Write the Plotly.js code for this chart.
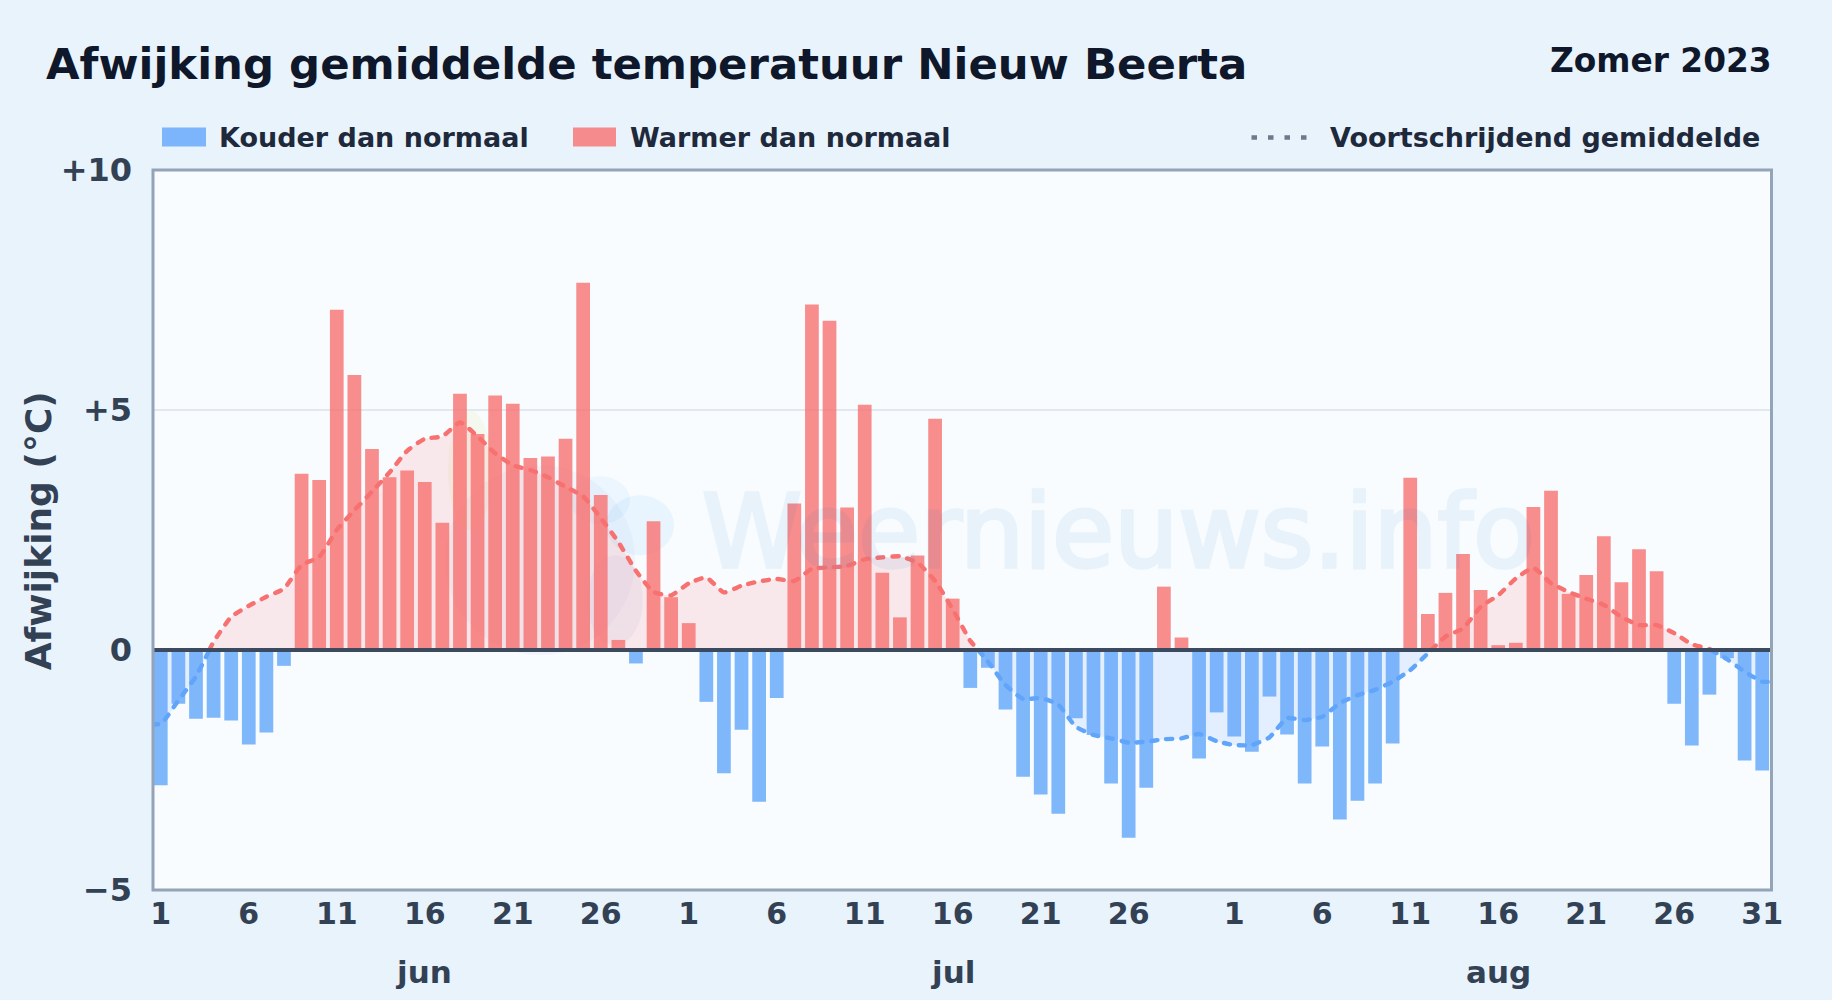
<!DOCTYPE html>
<html><head><meta charset="utf-8">
<script src="https://cdn.plot.ly/plotly-3.0.1.min.js"></script>
<style>html,body{margin:0;padding:0;background:#e9f3fc}#c{width:1832px;height:1000px}
path.js-line{stroke-linecap:round !important}
.annotation[data-index="6"] text{stroke:#2f80c8;stroke-width:3.5px}
</style>
</head><body><div id="c"></div>
<script>
const titleText = 'Afwijking gemiddelde temperatuur Nieuw Beerta';
const seasonText = 'Zomer 2023';
const yLabel = 'Afwijking (°C)';
const coldName = 'Kouder dan normaal';
const warmName = 'Warmer dan normaal';
const avgName = 'Voortschrijdend gemiddelde';
const watermark = 'Weernieuws.info';
const monthNames = ['jun','jul','aug'];
const monthCenters = [15.9,46,77];
const tickDays = [1,6,11,16,21,26,31,36,41,46,51,56,62,67,72,77,82,87,92];
const tickNames = ['1','6','11','16','21','26','1','6','11','16','21','26','1','6','11','16','21','26','31'];
const yTicks = [-5,0,5,10];
const yTickNames = ['−5','0','+5','+10'];

const juneDev = [-2.82,-1.12,-1.43,-1.41,-1.47,-1.97,-1.72,-0.33,3.67,3.54,7.09,5.73,4.19,3.6,3.74,3.5,2.65,5.34,4.5,5.3,5.13,4.0,4.03,4.4,7.65,3.23,0.21,-0.28,2.68,1.10];
const julyDev = [0.56,-1.08,-2.57,-1.66,-3.16,-1.0,3.05,7.2,6.86,2.97,5.11,1.61,0.68,1.97,4.82,1.07,-0.79,-0.37,-1.24,-2.64,-3.01,-3.41,-1.42,-1.77,-2.78,-3.91,-2.87,1.32,0.26,-2.26,-1.30];
const augDev = [-1.80,-2.12,-0.97,-1.76,-2.78,-2.01,-3.53,-3.14,-2.78,-1.95,3.59,0.75,1.19,2.0,1.25,0.1,0.15,2.98,3.32,1.17,1.56,2.37,1.41,2.10,1.64,-1.12,-1.99,-0.93,-0.17,-2.30,-2.51];

// rolling mean; x is the running day number, extra points are edges and zero crossings
const avgDays = [0.5,1,2,3,3.76,4,5,6,7,8,9,10,11,12,13,14,15,16,17,18,19,20,21,22,23,24,25,26,27,28,29,30,31,32,33,34,35,36,37,38,39,40,41,42,43,44,45,46,47,47.45,48,49,50,51,52,53,54,55,56,57,58,59,60,61,62,63,64,65,66,67,68,69,70,71,72,73,73.2,74,75,76,77,78,79,80,81,82,83,84,85,86,87,88,89,89.1,90,91,92,92.5];
const avgVals = [-1.54,-1.54,-1.05,-0.55,0,0.17,0.69,0.92,1.11,1.28,1.77,1.94,2.5,2.91,3.3,3.7,4.15,4.4,4.45,4.74,4.45,4.1,3.85,3.75,3.6,3.4,3.2,2.75,2.25,1.65,1.21,1.14,1.39,1.51,1.2,1.34,1.43,1.48,1.44,1.69,1.72,1.75,1.89,1.93,1.95,1.82,1.44,0.85,0.19,0,-0.24,-0.73,-1.02,-1.0,-1.14,-1.6,-1.77,-1.84,-1.93,-1.91,-1.86,-1.84,-1.75,-1.9,-1.98,-1.98,-1.82,-1.42,-1.46,-1.39,-1.11,-0.94,-0.83,-0.66,-0.42,-0.07,0,0.28,0.45,0.9,1.14,1.49,1.71,1.39,1.21,1.07,0.94,0.69,0.52,0.52,0.35,0.12,0.02,0,-0.19,-0.45,-0.66,-0.66];

const devs = juneDev.concat(julyDev, augDev);
const days = devs.map((_, i) => i + 1);
const coldVals = devs.map(v => v < 0 ? v : null);
const warmVals = devs.map(v => v >= 0 ? v : null);
const avgWarm = avgVals.map(v => v >= 0 ? v : null);
const avgCold = avgVals.map(v => v <= 0 ? v : null);

const L = 152, R = 1771, T = 169.5, B = 890;
const px = x => (x - L) / (R - L);
const py = y => (B - y) / (B - T);

const traces = [
  {type:'bar', x:days, y:coldVals, name:coldName, width:0.78, marker:{color:'rgba(96,165,250,0.8)', line:{width:0}}, hoverinfo:'x+y'},
  {type:'bar', x:days, y:warmVals, name:warmName, width:0.78, marker:{color:'rgba(248,113,113,0.8)', line:{width:0}}, hoverinfo:'x+y'},
  {type:'scatter', mode:'lines', x:avgDays, y:avgWarm, name:avgName, fill:'tozeroy', fillcolor:'rgba(248,113,113,0.14)', connectgaps:false,
   line:{color:'#f87171', width:4.4, dash:'6px,9px', shape:'spline', smoothing:0.5}},
  {type:'scatter', mode:'lines', x:avgDays, y:avgCold, name:avgName, fill:'tozeroy', fillcolor:'rgba(96,165,250,0.14)', connectgaps:false, showlegend:false,
   line:{color:'#60a5fa', width:4.4, dash:'6px,9px', shape:'spline', smoothing:0.5}}
];

function txt(text, x, y, size, color, anchor, extra){
  return Object.assign({text, xref:'paper', yref:'paper', x:px(x), y:py(y), showarrow:false, xanchor:anchor||'left', yanchor:'middle',
    font:{family:'DejaVu Sans', size, color, weight:'bold'}}, extra||{});
}
const annotations = [
  txt(titleText, 44, 63, 43.4, '#0f172a'),
  txt(seasonText, 1774, 60, 32.8, '#0f172a', 'right'),
  txt(coldName, 217, 137, 27, '#1e293b'),
  txt(warmName, 628, 137, 27, '#1e293b'),
  txt(avgName, 1328, 137, 27, '#1e293b'),
  txt(yLabel, 38, 531, 36, '#334155', 'center', {textangle:-90}),
  txt(watermark, 700, 532, 101, '#2f80c8', 'left', {opacity:0.075, font:{family:'DejaVu Sans', size:101, color:'#2f80c8'}})
].concat(monthNames.map((m,i)=>({text:m, xref:'x', yref:'paper', x:monthCenters[i], y:py(972), showarrow:false, xanchor:'center', yanchor:'middle',
    font:{family:'DejaVu Sans', size:31, color:'#334155', weight:'bold'}})));

function blob(cx, cy, rx, ry, color){
  return {type:'circle', xref:'paper', yref:'paper', layer:'below', x0:px(cx-rx), x1:px(cx+rx), y0:py(cy+ry), y1:py(cy-ry), fillcolor:color, line:{width:0}};
}
const shapes = [
  blob(540, 560, 95, 95, 'rgba(120,140,210,0.06)'),
  blob(640, 525, 34, 30, 'rgba(56,160,240,0.08)'),
  blob(600, 500, 30, 24, 'rgba(56,160,240,0.06)'),
  blob(615, 600, 28, 45, 'rgba(130,140,220,0.08)'),
  blob(470, 470, 22, 60, 'rgba(220,220,120,0.12)'),
  {type:'rect', xref:'paper', yref:'paper', x0:px(162), x1:px(206), y0:py(127), y1:py(146), fillcolor:'rgba(96,165,250,0.8)', line:{width:0}},
  {type:'rect', xref:'paper', yref:'paper', x0:px(573), x1:px(616), y0:py(127), y1:py(146), fillcolor:'rgba(248,113,113,0.8)', line:{width:0}},
  {type:'line', xref:'paper', yref:'paper', x0:px(1251.5), x1:px(1308), y0:py(137), y1:py(137), line:{color:'#6b7a8f', width:4.7, dash:'5.5px,11px'}},
  {type:'line', xref:'paper', yref:'y', x0:0, x1:1, y0:0, y1:0, layer:'above', line:{color:'#3b4a5f', width:4}},
  {type:'rect', xref:'paper', yref:'paper', layer:'above', x0:px(153), x1:px(1771.5), y0:py(890), y1:py(169.6), line:{color:'#94a3b8', width:3}}
];

const layout = {
  width:1832, height:1000,
  margin:{l:L, r:1832-R, t:T, b:1000-B, pad:0},
  paper_bgcolor:'#e9f3fc', plot_bgcolor:'#f8fcff',
  barmode:'overlay', showlegend:false,
  font:{family:'DejaVu Sans'},
  xaxis:{range:[0.5,92.5], tickmode:'array', tickvals:tickDays, ticktext:tickNames, showgrid:false, zeroline:false,
    showline:false, ticks:'', ticklabelstandoff:3,
    tickfont:{family:'DejaVu Sans', size:30, color:'#334155', weight:'bold'}},
  yaxis:{range:[-5,10], tickmode:'array', tickvals:yTicks, ticktext:yTickNames, showgrid:true, gridcolor:'#e2e8f0', gridwidth:2, zeroline:false,
    showline:false, ticks:'', ticklabelstandoff:19,
    tickfont:{family:'DejaVu Sans', size:32, color:'#334155', weight:'bold'}},
  annotations, shapes
};
Plotly.newPlot('c', traces, layout, {displayModeBar:false, staticPlot:true});
</script></body></html>
